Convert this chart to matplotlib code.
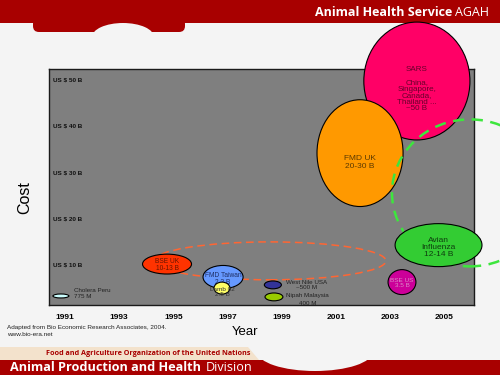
import matplotlib
matplotlib.use("Agg")
import matplotlib.pyplot as plt
from matplotlib.patches import Ellipse, Rectangle, Polygon, FancyBboxPatch
import matplotlib.transforms as mtransforms

plt.rcParams['font.family'] = ['Liberation Sans', 'DejaVu Sans']

# ---- dados ----
anos_ticks = [1991, 1993, 1995, 1997, 1999, 2001, 2003, 2005]
custo_ticks = [10, 20, 30, 40, 50]

surtos = ['SARS', 'FMD UK', 'Avian Influenza', 'BSE US', 'West Nile USA',
          'Nipah Malaysia', 'BSE UK', 'FMD Taiwan', 'Lamb 02', 'Cholera Peru']
ano_surto = [2004.0, 2001.9, 2004.8, 2003.45, 1998.68, 1998.72, 1994.77, 1996.84, 1996.8, 1990.85]
custo_surto = [49.8, 34.2, 14.3, 6.3, 5.7, 3.1, 10.2, 7.4, 5.0, 3.3]
rotulos = ['China,\nSingapore,\nCanada,\nThailand ...\n~50 B', 'FMD UK\n20-30 B',
           'Avian\nInfluenza\n12-14 B', 'BSE US\n3.5 B', 'West Nile USA\n~500 M',
           'Nipah Malaysia\n400 M', 'BSE UK\n10-13 B', 'FMD Taiwan\n2.2 B',
           'Lamb 02\n2.5 B', 'Cholera Peru\n775 M']

# estilo de cada bolha (largura/altura em unidades do eixo, cor, z)
larg = [3.92, 3.18, 3.21, 1.03, 0.63, 0.66, 1.81, 1.48, 0.59, 0.59]
alt = [25.5, 23.1, 9.3, 5.4, 1.7, 1.7, 4.3, 5.0, 2.6, 0.86]
cores = ['#ff0066', '#ff9900', '#33cc33', '#cc0099', '#333399', '#99cc00',
         '#ff3300', '#6699ff', '#ffff66', '#ccffff']
zs = [3, 4, 6, 4, 4, 4, 4, 4, 5.5, 4]
# posicao do texto: deslocamento em pontos, tamanho, alinhamento, cor
txt_dx = [0, 0, 0, 0, 24, 24, 0, 0, 0, 9.5]
txt_dy = [-10.5, -6.5, -2, -1, 0, -2, -1, -1.5, -3, 1.8]
txt_fs = [5.8, 6, 6, 4.6, 4.5, 4.5, 4.8, 4.8, 4.6, 4.5]
txt_ha = ['center'] * 9 + ['left']
txt_cor = ['#66002a', '#5c3a00', '#0f3d0f', '#d98cc8', '#222222', '#222222',
           '#661400', '#1f2f66', '#333333', '#222222']
txt_ls = [0.9, 1.2, 1.0, 1.0, 1.1, 1.6, 1.0, 1.0, 0.95, 1.1]

fundo = '#f4f4f4'
vermelho = '#a80000'

fig = plt.figure(figsize=(5, 3.75), dpi=100, facecolor=fundo)

# ---- cabecalho / rodape do slide ----
bg = fig.add_axes([0, 0, 1, 1], zorder=0)
bg.set_xlim(0, 500)
bg.set_ylim(375, 0)
bg.axis('off')
bg.add_patch(Rectangle((0, 0), 500, 23, color=vermelho, lw=0))
bg.add_patch(FancyBboxPatch((33, 18), 152, 14, boxstyle='round,pad=0,rounding_size=6',
                            color=vermelho, lw=0))
bg.add_patch(Ellipse((123, 37), 62, 28, color=fundo, lw=0))
bg.text(452, 12, 'Animal Health Service', color='white', fontsize=9,
        fontweight='bold', family='Open Sans', ha='right', va='center')
bg.text(455, 12, 'AGAH', color='white', fontsize=9, family='Open Sans',
        ha='left', va='center')

bg.add_patch(Polygon([(0, 347), (248, 347), (259, 360), (0, 360)], color='#f3e2cc', lw=0))
bg.add_patch(Rectangle((0, 360), 500, 15, color=vermelho, lw=0))
bg.add_patch(Ellipse((315, 352), 115, 38, color=fundo, lw=0))
bg.text(250, 353.5, 'Food and Agriculture Organization of the United Nations',
        color=vermelho, fontsize=5.2, fontweight='bold', family='Open Sans',
        ha='right', va='center')
bg.text(10, 367.5, 'Animal Production and Health', color='white', fontsize=9.1,
        fontweight='bold', family='Open Sans', ha='left', va='center')
bg.text(206, 367.5, 'Division', color='white', fontsize=9.1, family='Open Sans',
        ha='left', va='center')
bg.text(7, 331, 'Adapted from Bio Economic Research Associates, 2004.\nwww.bio-era.net',
        fontsize=4.6, color='#222222', va='center', linespacing=1.5)

# ---- grafico ----
ax = fig.add_axes([0.098, 0.1867, 0.85, 0.6293], zorder=1)
ax.set_facecolor('#7f7f7f')
ax.set_xlim(1990.41, 2006.11)
ax.set_ylim(1.35, 52.4)
for s in ax.spines.values():
    s.set_color('#1a1a1a')
    s.set_linewidth(1)

ax.set_xticks(anos_ticks)
ax.set_xticklabels([str(a) for a in anos_ticks], fontsize=6, fontweight='bold')
ax.tick_params(axis='x', length=0, pad=6.5)
ax.set_yticks([])

trans = mtransforms.blended_transform_factory(ax.transAxes, ax.transData)
for c in custo_ticks:
    ax.text(0.01, c, r'US \$ %d B' % c, transform=trans, fontsize=4.6,
            fontweight='bold', color='#111111', va='center', ha='left')

ax.set_xlabel('Year', fontsize=9.5, labelpad=0)
ax.xaxis.set_label_coords(0.46, -0.09)
fig.text(0.05, 0.472, 'Cost', rotation=90, fontsize=11.5, ha='center', va='center')

# elipses tracejadas
ax.add_patch(Ellipse((1998.57, 10.9), 8.57, 8.2, fill=False, ec='#ff6633', lw=1.1,
                     ls=(0, (5, 3)), zorder=2, clip_on=False))
ax.add_patch(Ellipse((2005.96, 25.6), 5.76, 31.8, fill=False, ec='#3de63d', lw=1.8,
                     ls=(0, (4.5, 3)), zorder=5, clip_on=False))

for i in range(len(surtos)):
    ax.add_patch(Ellipse((ano_surto[i], custo_surto[i]), larg[i], alt[i], fc=cores[i],
                         ec='black', lw=0.8, zorder=zs[i], clip_on=False))
    ax.annotate(rotulos[i], xy=(ano_surto[i], custo_surto[i]),
                xytext=(txt_dx[i], txt_dy[i]), textcoords='offset points',
                fontsize=txt_fs[i], ha=txt_ha[i], va='center', color=txt_cor[i],
                linespacing=txt_ls[i], zorder=zs[i] + 0.1, annotation_clip=False)

ax.annotate('SARS', xy=(ano_surto[0], custo_surto[0]), xytext=(0, 8.6),
            textcoords='offset points', fontsize=5.8, ha='center', va='center',
            color=txt_cor[0], zorder=3.1, annotation_clip=False)

fig.savefig('out.png', dpi=100, facecolor=fundo)
